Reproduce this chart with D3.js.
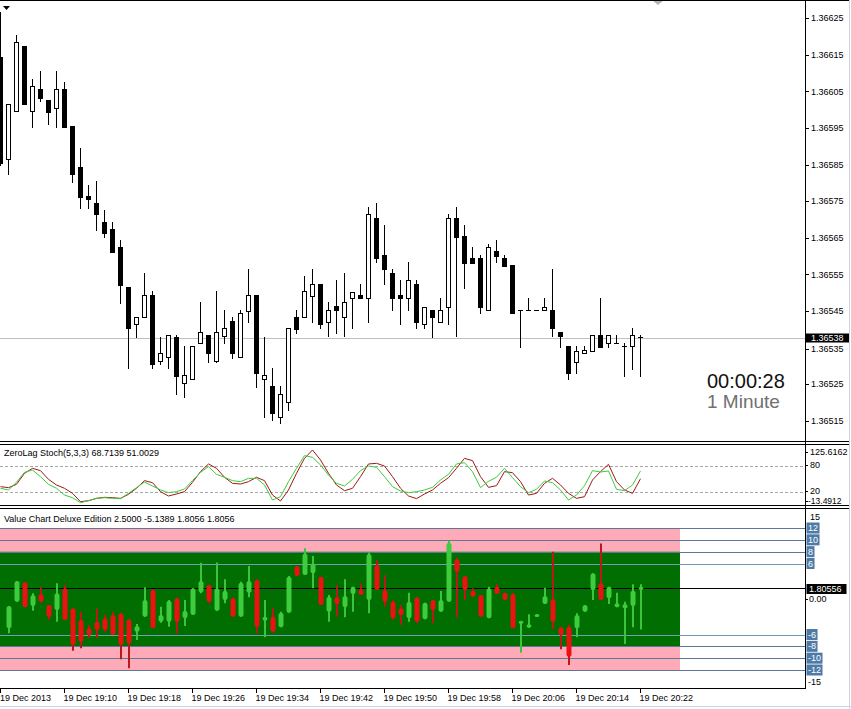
<!DOCTYPE html>
<html><head><meta charset="utf-8">
<script src="https://cdn.jsdelivr.net/npm/d3@7/dist/d3.min.js"></script>
<style>body{margin:0;background:#fff}svg{display:block}text{font-family:"Liberation Sans",Arial,sans-serif}</style>
</head><body><svg id="c" width="851" height="709"></svg>
<script>
// ---------- DATA ----------
const timeLabels = ["19 Dec 2013","19 Dec 19:10","19 Dec 19:18","19 Dec 19:26","19 Dec 19:34","19 Dec 19:42","19 Dec 19:50","19 Dec 19:58","19 Dec 20:06","19 Dec 20:14","19 Dec 20:22"];
const timeTickBars = [0,8,16,24,32,40,48,56,64,72,80];
const priceTicks = [1.36625,1.36615,1.36605,1.36595,1.36585,1.36575,1.36565,1.36555,1.36545,1.36535,1.36525,1.36515];
const bidPrice = 1.36538;

const open = [1.366144,1.365865,1.365997,1.366174,1.365997,1.366057,1.366027,1.366005,1.366057,1.365956,
1.365843,1.365764,1.365745,1.365693,1.365674,1.365625,1.365515,1.365414,1.365433,1.365494,
1.365313,1.365324,1.365380,1.365253,1.365264,1.365362,1.365384,1.365313,1.365381,1.365422,
1.365324,1.365450,1.365494,1.365264,1.365245,1.365160,1.365201,1.365433,1.365433,1.365491,
1.365524,1.365420,1.365464,1.365433,1.365485,1.365494,1.365485,1.365704,1.365603,1.365554,
1.365494,1.365485,1.365524,1.365414,1.365453,1.365420,1.365461,1.365704,1.365655,1.365595,
1.365595,1.365453,1.365614,1.365595,1.365576,1.365453,1.365453,1.365453,1.365453,1.365453,
1.365392,1.365354,1.365310,1.365335,1.365341,1.365384,1.365362,1.365362,1.365354,1.365354,
1.365380];
const high = [1.366267,1.366016,1.366204,1.366174,1.366084,1.366106,1.366027,1.366106,1.366076,1.365956,
1.365895,1.365794,1.365805,1.365726,1.365693,1.365644,1.365515,1.365433,1.365554,1.365505,
1.365380,1.365384,1.365384,1.365354,1.365354,1.365474,1.365384,1.365505,1.365453,1.365433,
1.365453,1.365565,1.365494,1.365380,1.365294,1.365245,1.365403,1.365453,1.365545,1.365565,
1.365524,1.365474,1.365535,1.365554,1.365502,1.365524,1.365734,1.365745,1.365685,1.365565,
1.365535,1.365584,1.365535,1.365461,1.365453,1.365485,1.365715,1.365734,1.365685,1.365625,
1.365603,1.365633,1.365644,1.365603,1.365576,1.365453,1.365485,1.365453,1.365485,1.365565,
1.365392,1.365354,1.365354,1.365354,1.365384,1.365485,1.365384,1.365384,1.365362,1.365403,
1.365384];
const low = [1.365849,1.365824,1.365997,1.366016,1.365953,1.366024,1.365961,1.365953,1.365953,1.365803,
1.365731,1.365731,1.365671,1.365652,1.365611,1.365472,1.365294,1.365380,1.365433,1.365294,
1.365305,1.365294,1.365223,1.365215,1.365264,1.365362,1.365310,1.365310,1.365362,1.365321,
1.365324,1.365420,1.365242,1.365160,1.365152,1.365144,1.365179,1.365390,1.365433,1.365420,
1.365403,1.365381,1.365390,1.365381,1.365403,1.365485,1.365420,1.365584,1.365524,1.365453,
1.365414,1.365453,1.365403,1.365403,1.365380,1.365420,1.365414,1.365381,1.365513,1.365581,
1.365444,1.365453,1.365584,1.365573,1.365444,1.365351,1.365453,1.365453,1.365453,1.365381,
1.365351,1.365264,1.365280,1.365335,1.365341,1.365351,1.365351,1.365362,1.365272,1.365291,
1.365272];
const close = [1.365854,1.366016,1.366185,1.366016,1.366065,1.366032,1.365994,1.366057,1.365953,1.365824,
1.365761,1.365756,1.365715,1.365663,1.365611,1.365521,1.365403,1.365433,1.365494,1.365305,
1.365335,1.365384,1.365272,1.365275,1.365354,1.365392,1.365335,1.365392,1.365403,1.365335,
1.365444,1.365494,1.365280,1.365275,1.365171,1.365223,1.365403,1.365400,1.365505,1.365524,
1.365414,1.365453,1.365453,1.365474,1.365502,1.365485,1.365715,1.365595,1.365565,1.365485,
1.365485,1.365535,1.365420,1.365461,1.365433,1.365453,1.365704,1.365652,1.365581,1.365581,
1.365461,1.365625,1.365600,1.365573,1.365444,1.365453,1.365453,1.365453,1.365461,1.365403,
1.365381,1.365280,1.365341,1.365343,1.365384,1.365351,1.365384,1.365362,1.365354,1.365384,
1.365380];

const stochMain = [29.1,25.3,42.8,65.6,70.9,55.7,38.2,29.1,13.8,7.7,
-3.7,0.9,6.2,7.7,6.2,5.5,17.6,30.6,43.5,34.4,
25.3,19.2,21.4,27.5,46.6,65.6,78.5,61.0,54.2,46.6,
44.3,51.9,51.9,36.7,2.4,10.0,44.3,74.7,103.6,99.8,
82.3,59.5,40.5,34.4,49.6,69.4,80.0,77.0,55.7,32.9,
23.0,19.2,21.4,25.3,31.3,48.1,61.0,84.6,87.6,67.1,
30.6,45.0,54.2,74.7,53.4,32.9,19.2,26.8,45.8,42.0,
25.3,2.4,13.8,35.1,69.4,66.3,68.6,26.8,23.7,36.7,
68.7139];
const stochSignal = [32.9,30.6,38.2,63.3,74.7,69.4,49.6,36.7,29.1,17.6,
-1.4,0.9,6.2,8.5,7.7,6.2,15.4,29.1,46.6,42.0,
21.4,11.6,16.1,21.4,42.8,67.1,84.6,74.7,54.2,40.5,
38.9,44.3,54.2,46.6,13.8,0.1,25.3,63.3,97.5,116.6,
93.7,63.3,36.7,23.7,29.1,55.7,84.6,86.1,80.0,55.7,
29.1,11.6,5.5,16.1,25.3,40.5,53.4,74.7,97.5,92.2,
55.7,31.3,35.1,67.1,64.8,44.3,13.8,17.6,40.5,51.9,
36.7,17.6,6.2,10.0,48.1,67.1,83.8,44.3,25.3,17.6,
51.0029];
const stochLevels = [80,20];
const stochScaleMax = 125.6162, stochScaleMin = -13.4912;

const vcOpen = [null,-4.95,-0.45,2.82,-1.18,0.84,-1.01,-1.86,1.80,-1.58,
-3.55,-4.95,-3.83,-3.27,-2.70,-2.42,-3.43,-5.52,-2.98,1.52,
-3.83,-3.83,0.11,-3.27,-2.70,1.13,2.36,-1.97,-0.17,0.11,
-2.98,1.07,3.21,-3.66,-2.98,-4.79,-2.31,5.57,4.05,4.34,
3.77,-2.14,0.28,-1.41,0.84,1.63,-0.17,5.74,1.52,-0.45,
-1.58,-3.27,0.28,-3.43,-0.17,-2.14,-0.45,6.70,3.89,1.41,
0.68,-3.27,2.08,1.07,0.84,-4.11,-4.84,-2.98,-0.84,-0.06,
-4.79,-4.67,-4.95,-2.14,1.52,2.65,0.11,-1.41,-1.58,-1.18,
1.8056];
const vcHigh = [null,-1.18,3.04,2.82,0.96,2.08,-1.01,2.65,2.36,-1.58,
-2.14,-4.39,-1.58,-2.70,-2.14,-2.42,-3.43,-4.22,1.97,1.63,
-1.30,-0.17,0.28,-0.17,1.80,6.14,2.36,6.19,3.32,0.28,
2.93,5.57,3.32,-0.17,-1.58,-2.14,3.89,5.57,8.56,7.26,
3.77,0.68,2.36,3.32,2.08,2.65,7.88,6.59,4.05,-0.17,
-1.01,1.07,0.28,-0.62,-0.17,1.35,9.85,6.98,3.89,1.80,
0.68,2.08,2.53,1.07,1.07,-3.72,-2.59,-2.59,1.91,8.0,
-4.79,-4.39,-2.42,-1.01,4.34,9.40,2.08,1.07,-0.45,2.48,
2.5];
const vcLow = [null,-5.8,-0.45,-1.41,-1.97,-0.62,-3.55,-3.83,-3.55,-8.73,
-8.33,-6.64,-6.64,-5.52,-6.08,-10.19,-11.71,-6.93,-2.98,-4.95,
-4.0,-4.67,-5.80,-4.56,-2.70,0.96,-0.73,-1.97,-0.73,-2.98,
-2.98,0.28,-5.80,-6.48,-5.69,-4.79,-2.31,3.89,4.05,1.80,
-1.01,-3.83,-2.98,-3.10,-2.14,0.68,-2.42,1.52,-1.30,-3.55,
-4.39,-3.83,-4.11,-3.43,-4.11,-2.14,-0.45,-3.10,-0.17,0.39,
-2.98,-3.27,0.84,-0.17,-4.95,-9.07,-4.84,-2.98,-0.84,-5.12,
-8.50,-11.15,-6.48,-2.14,-0.17,-0.17,-0.84,-1.41,-7.60,-4.79,
-5.1389];
const vcClose = [null,-1.18,3.04,-1.41,0.68,-0.45,-2.98,0.96,-3.55,-7.77,
-7.21,-6.08,-5.24,-5.24,-6.08,-7.77,-7.49,-4.56,-0.17,-4.95,
-2.70,-0.28,-3.83,-1.97,1.80,3.04,-0.45,1.80,1.41,-2.98,
2.76,3.04,-4.67,-2.98,-5.52,-2.31,3.77,3.89,7.71,6.02,
-1.01,0.39,-0.84,0.51,2.08,0.68,7.60,1.52,-0.45,-3.27,
-2.70,-0.45,-3.83,-0.62,-1.86,-0.17,9.52,4.62,1.52,0.39,
-2.98,1.80,0.84,-0.17,-4.95,-3.72,-4.28,-2.59,0.51,-3.83,
-6.08,-9.74,-2.70,-1.01,4.34,-0.17,2.08,-0.73,-0.84,1.41,
1.8056];
const vcLastLabel = "1.80556";
const vcLevels = [12,10,8,6,-6,-8,-10,-12];
const vcBandEndBar = 85;

// ---------- LAYOUT ----------
const svg = d3.select("#c");
const AX = 805;
const x = d3.scaleLinear().domain([0,80]).range([0,640]);
const yMain = d3.scaleLinear().domain([1.36515,1.36625]).range([420.7,18.3]);
const yStoch = d3.scaleLinear().domain([20,80]).range([492.3,466]);
const yVC = d3.scaleLinear().domain([-12,12]).range([670,528]);

const defs = svg.append("defs");
function clip(id,y0,y1){defs.append("clipPath").attr("id",id).append("rect").attr("x",0).attr("y",y0).attr("width",AX).attr("height",y1-y0);}
clip("cm",1,441); clip("cs",445,505); clip("cv",509,688);

svg.append("rect").attr("width",851).attr("height",709).attr("fill","#fff");

// ----- main chart -----
const gm = svg.append("g").attr("clip-path","url(#cm)");
const bidY = Math.round(yMain(bidPrice))+1.5;
gm.append("line").attr("x1",0).attr("x2",AX).attr("y1",bidY).attr("y2",bidY).attr("stroke","#c0c0c0");
const bars = d3.range(open.length);
const py = v => Math.round(yMain(v));
bars.forEach(i=>{
  const cx = Math.round(x(i));
  gm.append("line").attr("x1",cx+0.5).attr("x2",cx+0.5).attr("y1",py(high[i])).attr("y2",py(low[i])+1).attr("stroke","#000");
  const t = Math.min(py(open[i]),py(close[i])), b = Math.max(py(open[i]),py(close[i]));
  if (b - t < 1) {
    gm.append("line").attr("x1",cx-2).attr("x2",cx+3).attr("y1",t+0.5).attr("y2",t+0.5).attr("stroke","#000");
  } else {
    const bull = close[i] > open[i];
    gm.append("rect").attr("x",cx-1.5).attr("y",t+0.5).attr("width",4).attr("height",b-t)
      .attr("fill",bull?"#fff":"#000").attr("stroke","#000");
  }
});
// price axis
priceTicks.forEach(p=>{
  const yy = yMain(p) + (p===1.36535 ? 1.5 : 0);
  svg.append("line").attr("x1",AX).attr("x2",AX+4).attr("y1",Math.round(yy)+0.5).attr("y2",Math.round(yy)+0.5).attr("stroke","#000");
  svg.append("text").attr("x",811).attr("y",yy).attr("dy","0.35em").attr("font-size",9).text(p.toFixed(5));
});
{
  svg.append("rect").attr("x",806).attr("y",bidY-5).attr("width",43).attr("height",9).attr("fill","#000");
  svg.append("text").attr("x",811).attr("y",bidY-0.5).attr("dy","0.35em").attr("font-size",9).attr("fill","#fff").text(bidPrice.toFixed(5));
}
svg.append("text").attr("x",707).attr("y",388).attr("font-size",20).attr("fill","#111").text("00:00:28");
svg.append("text").attr("x",707).attr("y",407.5).attr("font-size",19).attr("fill","#707070").text("1 Minute");
svg.append("path").attr("d","M3,6 L10,6 L6.5,10 Z").attr("fill","#000");
svg.append("path").attr("d","M652,0 L664,0 L658,5 Z").attr("fill","#b4b4b4");

// ----- stochastic -----
const gs = svg.append("g").attr("clip-path","url(#cs)");
stochLevels.forEach(l=>{
  gs.append("line").attr("x1",0).attr("x2",AX).attr("y1",Math.round(yStoch(l))+0.5).attr("y2",Math.round(yStoch(l))+0.5)
    .attr("stroke","#a8a8a8").attr("stroke-dasharray","3,2");
});
const ln = d3.line().x((d,i)=>x(i)+0.5).y(d=>yStoch(d));
gs.append("path").attr("d",ln(stochSignal)).attr("fill","none").attr("stroke","#a01818").attr("stroke-width",1);
gs.append("path").attr("d",ln(stochMain)).attr("fill","none").attr("stroke","#3ccc3c").attr("stroke-width",1);
svg.append("text").attr("x",4).attr("y",453).attr("dy","0.35em").attr("font-size",9).text(`ZeroLag Stoch(5,3,3) ${stochMain[80].toFixed(4)} ${stochSignal[80].toFixed(4)}`);
[[stochScaleMax.toFixed(4),452,9],[String(stochLevels[0]),yStoch(80)-1,9],[String(stochLevels[1]),yStoch(20)-1.5,9],[stochScaleMin.toFixed(4),501,8.5]].forEach(([t,yy,fs])=>{
  svg.append("line").attr("x1",AX).attr("x2",AX+3).attr("y1",Math.round(yy)+0.5).attr("y2",Math.round(yy)+0.5).attr("stroke","#000");
  svg.append("text").attr("x",t.startsWith("-")?808:810).attr("y",yy).attr("dy","0.35em").attr("font-size",fs).text(t);
});

// ----- value chart -----
const gv = svg.append("g").attr("clip-path","url(#cv)");
const bx1 = x(vcBandEndBar);
gv.append("rect").attr("x",0).attr("y",yVC(12)).attr("width",bx1).attr("height",yVC(8)-yVC(12)).attr("fill","#ffaab8");
gv.append("rect").attr("x",0).attr("y",yVC(-8)).attr("width",bx1).attr("height",yVC(-12)-yVC(-8)).attr("fill","#ffaab8");
gv.append("rect").attr("x",0).attr("y",yVC(8)).attr("width",bx1).attr("height",yVC(-8)-yVC(8)).attr("fill","#006e00");
vcLevels.forEach(l=>{
  const yy = Math.round(yVC(l))+0.5;
  gv.append("line").attr("x1",0).attr("x2",AX).attr("y1",yy).attr("y2",yy).attr("stroke",Math.abs(l)===6?"#6f9fb0":"#5d7894");
});
{
  const yy = Math.round(yVC(vcClose[80]))+0.5;
  gv.append("line").attr("x1",0).attr("x2",AX).attr("y1",yy).attr("y2",yy).attr("stroke","#000");
}
bars.forEach(i=>{
  if (vcOpen[i]===null) return;
  const cx = Math.round(x(i));
  const bull = vcClose[i] >= vcOpen[i];
  gv.append("line").attr("x1",cx+1).attr("x2",cx+1).attr("y1",yVC(vcHigh[i])).attr("y2",yVC(vcLow[i]))
    .attr("stroke",bull?"#3cc43c":"#b81a1a").attr("stroke-width",2);
  const t = Math.min(yVC(vcOpen[i]),yVC(vcClose[i])), b = Math.max(yVC(vcOpen[i]),yVC(vcClose[i]));
  const h = Math.max(b-t,3);
  gv.append("rect").attr("x",cx-1.5).attr("y",(t+b)/2-h/2).attr("width",5).attr("height",h).attr("rx",2.5)
    .attr("fill",bull?"#3ccc3c":"#ee1111");
});
svg.append("text").attr("x",4).attr("y",518.5).attr("dy","0.35em").attr("font-size",9)
  .text(`Value Chart Deluxe Edition ${vcHigh[80].toFixed(4)} ${vcLow[80].toFixed(4)} ${vcOpen[80].toFixed(4)} ${vcClose[80].toFixed(4)}`);
// value axis labels
svg.append("text").attr("x",810).attr("y",517).attr("dy","0.35em").attr("font-size",9).text("15");
svg.append("text").attr("x",808).attr("y",682).attr("dy","0.35em").attr("font-size",9).text("-15");
svg.append("text").attr("x",809).attr("y",yVC(0)).attr("dy","0.35em").attr("font-size",9).text("0.00");
svg.append("line").attr("x1",AX).attr("x2",AX+3).attr("y1",599.5).attr("y2",599.5).attr("stroke","#000");
vcLevels.forEach(l=>{
  const yy = yVC(l);
  const tx = svg.append("text").attr("x",808).attr("y",yy).attr("dy","0.35em").attr("font-size",9).attr("fill","#fff").text(String(l));
  const w = tx.node().getComputedTextLength();
  svg.insert("rect","text:last-child").attr("x",806.5).attr("y",yy-5.5).attr("width",w+3).attr("height",11).attr("fill","#4d7aa6");
  tx.raise();
});
{
  const yy = Math.round(yVC(vcClose[80]))+0.5;
  svg.append("rect").attr("x",806.5).attr("y",yy-4.5).attr("width",40).attr("height",10).attr("fill","#000");
  svg.append("text").attr("x",809).attr("y",yy).attr("dy","0.35em").attr("font-size",9).attr("fill","#fff").text(vcLastLabel);
}

// ----- frames -----
[0.5,441.5,444.5,505.5,508.5].forEach(yy=>svg.append("line").attr("x1",0).attr("x2",849).attr("y1",yy).attr("y2",yy).attr("stroke","#000"));
svg.append("line").attr("x1",0).attr("x2",AX+1).attr("y1",688.5).attr("y2",688.5).attr("stroke","#000");
svg.append("line").attr("x1",AX+0.5).attr("x2",AX+0.5).attr("y1",0).attr("y2",689).attr("stroke","#000");
svg.append("line").attr("x1",849.5).attr("x2",849.5).attr("y1",0).attr("y2",709).attr("stroke","#c8d6e6");
svg.append("line").attr("x1",0).attr("x2",851).attr("y1",706.5).attr("y2",706.5).attr("stroke","#c8d6e6");

// time axis
timeTickBars.forEach((b,k)=>{
  const xx = Math.round(x(b))+0.5;
  svg.append("line").attr("x1",xx).attr("x2",xx).attr("y1",688).attr("y2",693).attr("stroke","#000");
  svg.append("text").attr("x",k===0?0:xx-1).attr("y",698).attr("dy","0.35em").attr("font-size",9).text(timeLabels[k]);
});
</script></body></html>
